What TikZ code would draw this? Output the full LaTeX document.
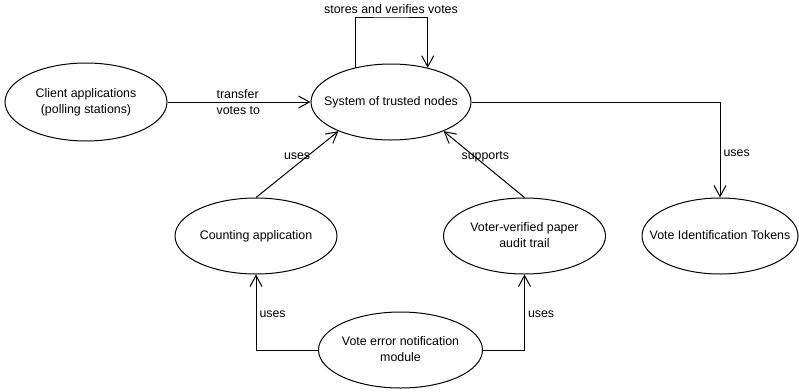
\documentclass[tikz,border=0pt]{standalone}
\usepackage{fontspec}
\setmainfont{Liberation Sans}
\usetikzlibrary{shapes.geometric,arrows.meta}
% centred text of zero width, so the ellipse keeps its given size
\newcommand{\ctext}[1]{\makebox[0pt]{\begin{tabular}{@{}c@{}}#1\end{tabular}}}
\tikzset{
  uc/.style={ellipse, draw, line width=1pt, inner sep=0pt,
             minimum width=#1, minimum height=76pt},
  arr/.style={draw, line width=1pt, -{Straight Barb[length=11pt,width=12pt]}},
  lbl/.style={inner sep=0pt},
  every node/.style={font=\fontsize{12.4}{15.8}\selectfont}
}
\begin{document}
\begin{tikzpicture}[x=1pt,y=-1pt]
  \fill[white] (0,0) rectangle (799,391);
  \useasboundingbox (0,0) rectangle (799,391);

  % use cases
  \node[uc=162pt, minimum height=78pt] (cli) at (86,102) {\ctext{Client applications\\(polling stations)}};
  \node[uc=160pt] (sys) at (391,102) {\ctext{System of trusted nodes}};
  \node[uc=162pt] (cnt) at (256,236) {\ctext{Counting application}};
  \node[uc=162pt] (vvp) at (524.5,236) {\ctext{Voter-verified paper\\audit trail}};
  \node[uc=156pt] (tok) at (720,236) {\ctext{Vote Identification Tokens}};
  \node[uc=164pt] (err) at (400.5,350) {\ctext{Vote error notification\\module}};

  % self relation on the trusted nodes
  \coordinate (lt) at (391,17);
  \draw[arr] (sys.136.6) |- (lt) -| (sys.43.4);
  \node[lbl, anchor=base] (ltl) at (391,13) {stores and verifies votes};

  % relations
  \draw[arr] (cli.east) -- node[lbl, pos=0.34, anchor=west, align=left] {transfer\\votes to} (sys.west);
  \draw[arr] (sys.east) -| node[lbl, pos=0.75, anchor=west, xshift=3pt, yshift=-3pt] {uses} (tok.north);
  \draw[arr] (cnt.north) -- node[lbl, pos=0.62, xshift=-10pt] {uses} (sys.209);
  \draw[arr] (vvp.north) -- node[lbl, pos=0.62, xshift=11pt] {supports} (sys.331);
  \draw[arr] (err.west) -| node[lbl, pos=0.75, anchor=west, xshift=3pt, yshift=-2pt] {uses} (cnt.south);
  \draw[arr] (err.east) -| node[lbl, pos=0.75, anchor=west, xshift=3pt, yshift=-2pt] {uses} (vvp.south);
\end{tikzpicture}
\end{document}
